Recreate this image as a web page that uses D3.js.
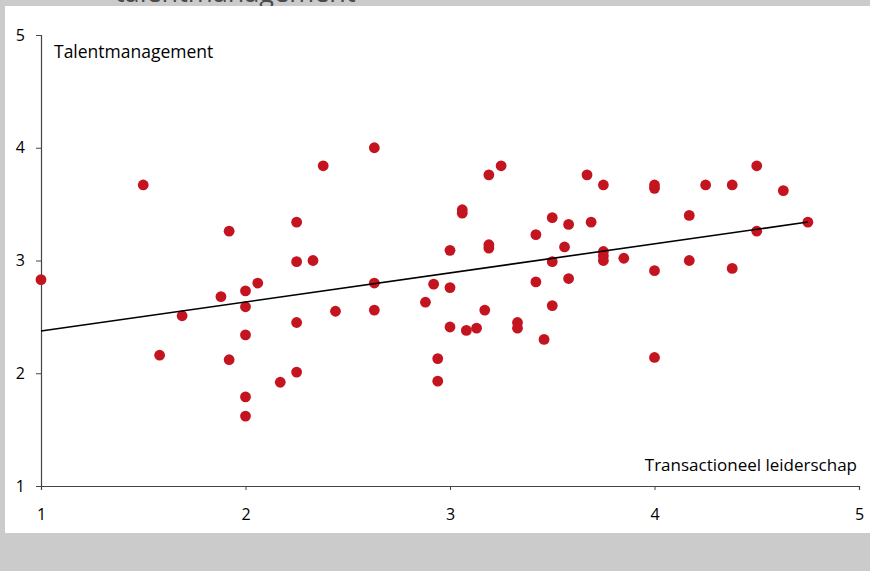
<!DOCTYPE html>
<html>
<head>
<meta charset="utf-8">
<script src="https://cdn.jsdelivr.net/npm/d3@7"></script>
<style>
  html, body { margin: 0; padding: 0; background: #cbcbcb; }
  svg { display: block; }
  text { font-family: "Open Sans", "Noto Sans", sans-serif; }
</style>
</head>
<body>
<svg id="chart" width="870" height="571"></svg>
<script>
// Data: Transactioneel leiderschap (x) vs Talentmanagement (y)
const xValues = [1.00, 1.50, 1.58, 1.69, 1.88, 1.92, 1.92, 2.00, 2.00, 2.00, 2.00, 2.00, 2.06, 2.17,
  2.25, 2.25, 2.25, 2.25, 2.33, 2.38, 2.44, 2.63, 2.63, 2.63, 2.88, 2.92, 2.94, 2.94,
  3.00, 3.00, 3.00, 3.06, 3.06, 3.08, 3.13, 3.17, 3.19, 3.19, 3.19, 3.25, 3.33, 3.33,
  3.42, 3.42, 3.46, 3.50, 3.50, 3.50, 3.56, 3.58, 3.58, 3.67, 3.69, 3.75, 3.75, 3.75, 3.75,
  3.85, 4.00, 4.00, 4.00, 4.00, 4.17, 4.17, 4.25, 4.38, 4.38, 4.50, 4.50, 4.63, 4.75];
const yValues = [2.83, 3.67, 2.16, 2.51, 2.68, 3.26, 2.12, 2.73, 2.59, 2.34, 1.79, 1.62, 2.80, 1.92,
  3.34, 2.99, 2.45, 2.01, 3.00, 3.84, 2.55, 4.00, 2.80, 2.56, 2.63, 2.79, 2.13, 1.93,
  3.09, 2.76, 2.41, 3.45, 3.42, 2.38, 2.40, 2.56, 3.76, 3.14, 3.11, 3.84, 2.45, 2.40,
  3.23, 2.81, 2.30, 3.38, 2.99, 2.60, 3.12, 3.32, 2.84, 3.76, 3.34, 3.67, 3.08, 3.04, 3.00,
  3.02, 3.67, 3.64, 2.91, 2.14, 3.40, 3.00, 3.67, 3.67, 2.93, 3.84, 3.26, 3.62, 3.34];
const xTicks = [1, 2, 3, 4, 5];
const yTicks = [1, 2, 3, 4, 5];
const trendX = [1.00, 4.75];
const trendY = [2.375, 3.341];
const xLabel = "Transactioneel leiderschap";
const yLabel = "Talentmanagement";
const titleText = "talentmanagement";

const svg = d3.select("#chart");

// Title (mostly outside the visible area, like the reference crop)
svg.append("text")
  .attr("x", 115).attr("y", 2)
  .attr("font-size", 27)
  .attr("fill", "#4a4a4a")
  .text(titleText);

// White panel
svg.append("rect")
  .attr("x", 5).attr("y", 6)
  .attr("width", 865).attr("height", 527)
  .attr("fill", "#ffffff");

const x = d3.scaleLinear().domain([1, 5]).range([41, 859]);
const y = d3.scaleLinear().domain([1, 5]).range([486, 35]);

// Y axis
const yAxis = svg.append("g")
  .attr("transform", "translate(41,0)")
  .call(d3.axisLeft(y).tickValues(yTicks).tickFormat(d3.format("d")).tickSize(5).tickPadding(11));
yAxis.select(".domain").attr("stroke", "#444").attr("stroke-width", 1.2);
yAxis.selectAll(".tick line").attr("stroke", "#444");
yAxis.selectAll(".tick text").attr("font-size", 16).attr("fill", "#000")
  .attr("font-family", "'Open Sans', 'Noto Sans', sans-serif");

// X axis
const xAxis = svg.append("g")
  .attr("transform", "translate(0,486)")
  .call(d3.axisBottom(x).tickValues(xTicks).tickFormat(d3.format("d")).tickSize(4).tickPadding(19));
xAxis.select(".domain").attr("stroke", "#444").attr("stroke-width", 1.2);
xAxis.selectAll(".tick line").attr("stroke", "#444");
xAxis.selectAll(".tick text").attr("font-size", 16).attr("fill", "#000")
  .attr("font-family", "'Open Sans', 'Noto Sans', sans-serif");

// Axis labels
svg.append("text")
  .attr("x", 54).attr("y", 58)
  .attr("font-size", 17.5).attr("fill", "#000")
  .text(yLabel);
svg.append("text")
  .attr("x", 857).attr("y", 471)
  .attr("text-anchor", "end")
  .attr("font-size", 17).attr("fill", "#000")
  .text(xLabel);

// Points
const pts = xValues.map((d, i) => ({ x: d, y: yValues[i] }));
svg.append("g").selectAll("circle")
  .data(pts)
  .enter().append("circle")
  .attr("cx", d => x(d.x))
  .attr("cy", d => y(d.y))
  .attr("r", 5.4)
  .attr("fill", "#c4141f");

// Trend line
const line = d3.line().x(d => x(d[0])).y(d => y(d[1]));
svg.append("path")
  .datum(trendX.map((d, i) => [d, trendY[i]]))
  .attr("d", line)
  .attr("fill", "none")
  .attr("stroke", "#000")
  .attr("stroke-width", 1.6);
</script>
</body>
</html>
